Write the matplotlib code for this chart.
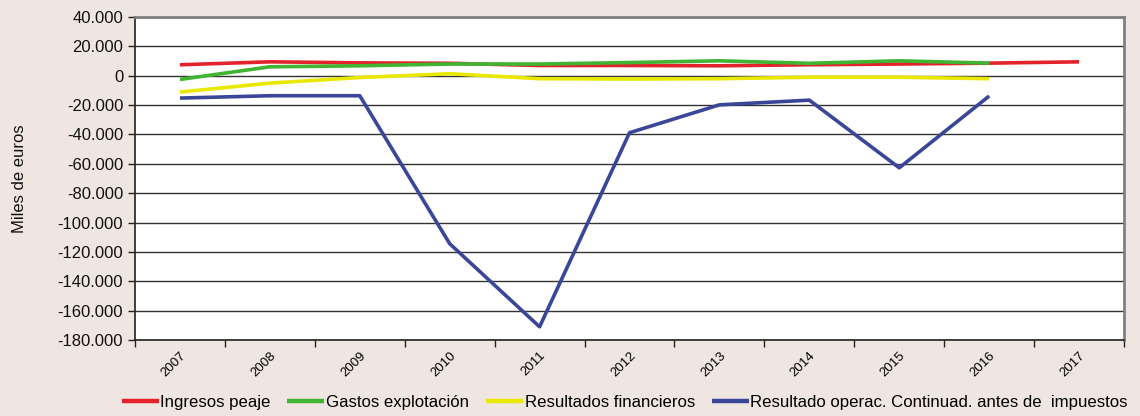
import matplotlib
matplotlib.use("Agg")
import matplotlib.pyplot as plt
from matplotlib.ticker import FuncFormatter, FixedLocator, NullFormatter

plt.rcParams["font.family"] = ["Liberation Sans", "DejaVu Sans"]

BG = "#f0e6e1"

years = ["2007", "2008", "2009", "2010", "2011", "2012",
         "2013", "2014", "2015", "2016", "2017"]

# miles de euros
ingresos_peaje = [7500, 9500, 8800, 8500, 7000, 7000, 6800, 7500, 8000, 8600, 9500]
gastos_explotacion = [-2500, 6100, 6800, 8000, 8000, 9000, 10200, 8500, 10200, 8600]
resultados_financieros = [-11100, -5000, -1200, 1400, -2000, -2200, -2000, -1000, -1000, -2000]
resultado_operac = [-15200, -13600, -13600, -114400, -171000, -38800, -19800, -16600, -62700, -13800]

series = [
    ("Ingresos peaje", ingresos_peaje, "#e3232c"),
    ("Gastos explotación", gastos_explotacion, "#3fb531"),
    ("Resultados financieros", resultados_financieros, "#e8e800"),
    ("Resultado operac. Continuad. antes de  impuestos", resultado_operac, "#3a4799"),
]

fig = plt.figure(figsize=(11.4, 4.16), dpi=100)
fig.patch.set_facecolor(BG)
ax = fig.add_axes([0.1184, 0.1827, 0.8676, 0.7763])
ax.set_facecolor("white")

for label, vals, color in series:
    ax.plot(range(len(vals)), vals, color=color, lw=2.6, label=label,
            solid_capstyle="butt", zorder=3)

ax.set_xlim(-0.5, len(years) - 0.5)
ax.set_ylim(-180000, 40000)
ax.set_yticks(range(-180000, 40001, 20000))
ax.yaxis.set_major_formatter(
    FuncFormatter(lambda v, _: f"{int(v):,}".replace(",", ".")))
ax.grid(axis="y", color="#333333", lw=1.0, zorder=1)

# category boundaries carry the tick marks, labels sit at the centres
ax.xaxis.set_major_locator(FixedLocator([i - 0.5 for i in range(len(years) + 1)]))
ax.xaxis.set_major_formatter(NullFormatter())
ax.set_xticks(range(len(years)), minor=True)
ax.set_xticklabels(years, minor=True, rotation=45, ha="right",
                   rotation_mode="anchor", fontsize=9.5)
ax.tick_params(axis="x", which="minor", length=0, pad=7)
ax.tick_params(axis="x", which="major", length=5, width=1, color="#222222")
ax.tick_params(axis="y", length=5, width=1, color="#222222", labelsize=12,
               labelcolor="#111111")

for side in ("left", "bottom"):
    ax.spines[side].set_color("#222222")
    ax.spines[side].set_linewidth(1.2)
for side in ("top", "right"):
    ax.spines[side].set_color("#808080")
    ax.spines[side].set_linewidth(2)

ax.set_ylabel("Miles de euros", fontsize=12, labelpad=22, color="#111111")

leg = fig.legend(loc="lower center", bbox_to_anchor=(0.548, -0.022), ncol=4,
                 frameon=False, fontsize=12.1, handlelength=2.2,
                 handletextpad=0.1, columnspacing=1.0)
for line in leg.get_lines():
    line.set_linewidth(3.2)

fig.savefig("out.png", dpi=100, facecolor=fig.get_facecolor())
